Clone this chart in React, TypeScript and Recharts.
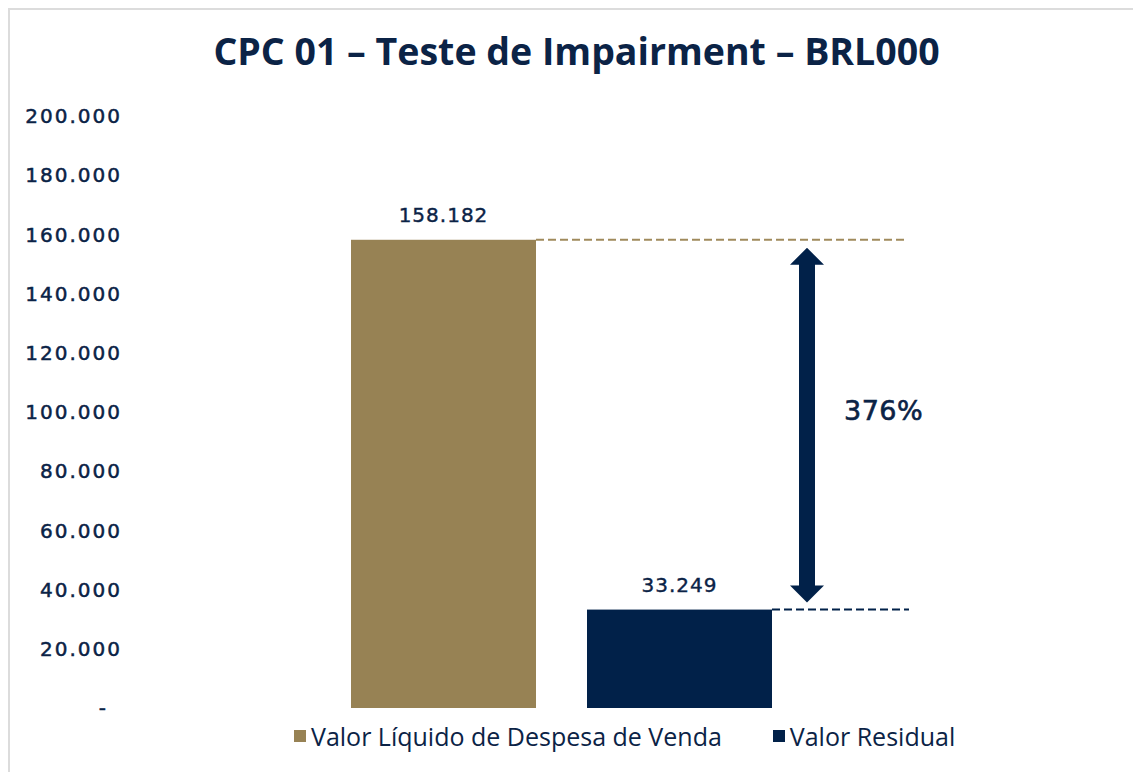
import React from "react";
import { BarChart, Bar, XAxis, YAxis, LabelList } from "recharts";

const categories = [""];
const seriesLiquido = [158182];
const seriesResidual = [33249];
const seriesNames = ["Valor Líquido de Despesa de Venda", "Valor Residual"];
const yTicks = [0, 20000, 40000, 60000, 80000, 100000, 120000, 140000, 160000, 180000, 200000];
const title = "CPC 01 – Teste de Impairment – BRL000";

const GOLD = "#978254";
const NAVY = "#012149";
const TEXT = "#0b2346";

const data = categories.map((c, i) => ({
  name: c,
  liquido: seriesLiquido[i],
  residual: seriesResidual[i],
}));

const fmt = (v: number) =>
  v === 0 ? "-" : String(Math.round(v)).replace(/\B(?=(\d{3})+(?!\d))/g, ".");

const NUM_FONT = "'DejaVu Sans', sans-serif";
const TXT_FONT = "'Open Sans', sans-serif";

const YTick = (props: any) => {
  const { x, y, payload } = props;
  const isZero = payload.value === 0;
  return (
    <text
      x={x + (isZero ? -12 : 2)}
      y={y}
      dy="0.36em"
      textAnchor="end"
      fill={TEXT}
      stroke={TEXT}
      strokeWidth={0.5}
      fontFamily={NUM_FONT}
      fontSize={20}
      letterSpacing={2}
    >
      {fmt(payload.value)}
    </text>
  );
};

const GoldShape = (props: any) => {
  const { x, y, width, height } = props;
  return (
    <g>
      <rect x={x} y={y} width={width} height={height} fill={GOLD} />
      <line
        x1={x + width}
        x2={x + width + 370}
        y1={y}
        y2={y}
        stroke="#a08a5c"
        strokeWidth={2}
        strokeDasharray="8 4"
      />
    </g>
  );
};

const NavyShape = (props: any) => {
  const { x, y, width, height } = props;
  const p = props.payload || props;
  const base = y + height;
  const k = height / p.residual;
  const yTop = base - p.liquido * k;
  const cx = x + width + 35;
  const tipTop = yTop + 8;
  const tipBot = y - 7;
  const hw = 8;
  const hh = 17;
  const headW = 17;
  const pts = [
    [cx, tipTop],
    [cx + headW, tipTop + hh],
    [cx + hw, tipTop + hh],
    [cx + hw, tipBot - hh],
    [cx + headW, tipBot - hh],
    [cx, tipBot],
    [cx - headW, tipBot - hh],
    [cx - hw, tipBot - hh],
    [cx - hw, tipTop + hh],
    [cx - headW, tipTop + hh],
  ]
    .map((q) => q.join(","))
    .join(" ");
  const pct = Math.round((p.liquido / p.residual - 1) * 100);
  return (
    <g>
      <rect x={x} y={y} width={width} height={height} fill={NAVY} />
      <line
        x1={x + width}
        x2={x + width + 137}
        y1={y}
        y2={y}
        stroke={NAVY}
        strokeWidth={2}
        strokeDasharray="8 4"
      />
      <polygon points={pts} fill={NAVY} />
      <text
        x={cx + 37}
        y={(tipTop + tipBot) / 2 - 15}
        dy="0.36em"
        fill={TEXT}
        stroke={TEXT}
        strokeWidth={0.6}
        fontFamily={NUM_FONT}
        fontSize={27}
        letterSpacing={0.5}
      >
        {pct + "%"}
      </text>
    </g>
  );
};

const labelProps = {
  position: "top" as const,
  offset: 18,
  fill: TEXT,
  stroke: TEXT,
  strokeWidth: 0.4,
  fontFamily: NUM_FONT,
  fontSize: 20,
  letterSpacing: 1,
  formatter: (v: any) => fmt(Number(v)),
};

export default function App() {
  return (
    <div
      style={{
        position: "relative",
        width: 1131,
        height: 762,
        borderTop: "2px solid #dcdcdc",
        borderLeft: "2px solid #dcdcdc",
        background: "#fff",
      }}
    >
      <div
        style={{
          position: "absolute",
          left: 0,
          width: 1133,
          top: 19,
          textAlign: "center",
          fontFamily: TXT_FONT,
          fontWeight: 700,
          fontSize: 37.5,
          color: TEXT,
          lineHeight: "44px",
        }}
      >
        {title}
      </div>
      <BarChart
        width={1131}
        height={762}
        data={data}
        margin={{ top: 106, right: 166, bottom: 64, left: 0 }}
        barSize={185}
        barGap={51}
      >
        <YAxis
          domain={[0, 200000]}
          ticks={yTicks}
          interval={0}
          axisLine={false}
          tickLine={false}
          tickSize={0}
          tickMargin={28}
          width={138}
          tick={<YTick />}
        />
        <XAxis
          dataKey="name"
          height={0}
          tick={false}
          tickLine={false}
          axisLine={{ stroke: "#d9d9d9", strokeWidth: 2 }}
        />
        <Bar dataKey="liquido" fill={GOLD} isAnimationActive={false} shape={<GoldShape />}>
          <LabelList dataKey="liquido" {...labelProps} />
        </Bar>
        <Bar dataKey="residual" fill={NAVY} isAnimationActive={false} shape={<NavyShape />}>
          <LabelList dataKey="residual" {...labelProps} />
        </Bar>
      </BarChart>
      <div
        style={{
          position: "absolute",
          left: 284,
          top: 709,
          display: "flex",
          alignItems: "center",
          gap: 51,
          fontFamily: TXT_FONT,
          fontWeight: 500,
          fontSize: 25,
          color: TEXT,
          whiteSpace: "nowrap",
          lineHeight: "34px",
        }}
      >
        {seriesNames.map((n, i) => (
          <div key={n} style={{ display: "flex", alignItems: "center" }}>
            <span
              style={{
                display: "inline-block",
                width: 12,
                height: 12,
                background: i === 0 ? GOLD : NAVY,
                marginRight: 5,
              }}
            />
            <span>{n}</span>
          </div>
        ))}
      </div>
    </div>
  );
}
